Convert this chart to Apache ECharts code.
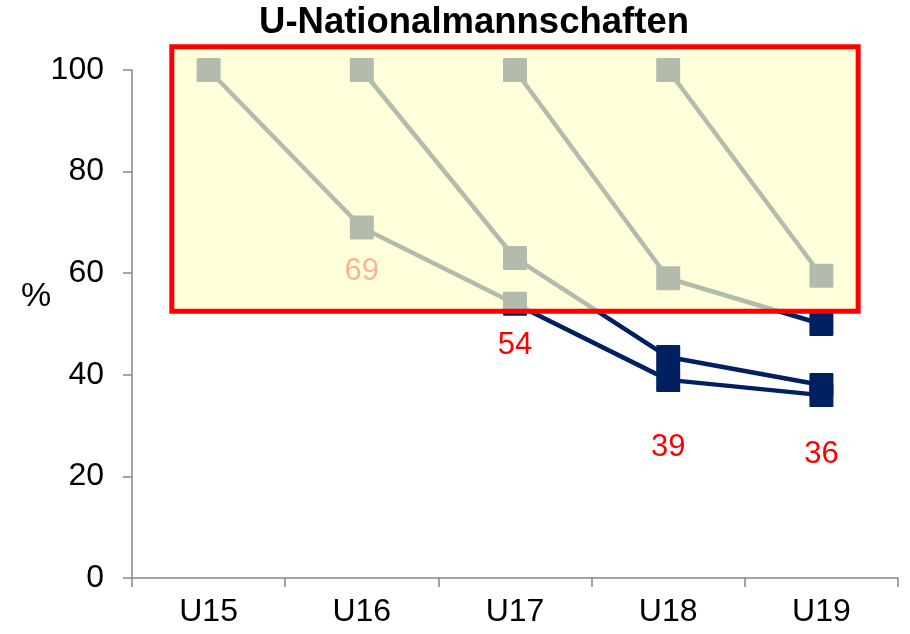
<!DOCTYPE html>
<html>
<head>
<meta charset="utf-8">
<script src="https://cdn.jsdelivr.net/npm/echarts@6/dist/echarts.min.js"></script>
<style>
  html, body { margin: 0; padding: 0; background: #fff; }
  #main { width: 910px; height: 634px; }
</style>
</head>
<body>
<div id="main"></div>
<script>
var categories = ['U15', 'U16', 'U17', 'U18', 'U19'];

// jeweils ein Jahrgang, Start bei 100 %
var fromU15 = [100, 69, 54, 39, 36];
var fromU16 = ['-', 100, 63, 43.5, 38];
var fromU17 = ['-', '-', 100, 59, 50];
var fromU18 = ['-', '-', '-', 100, 59.5];

// Werte, die unter den Punkten stehen (Reihe ab U15)
var labelValues = ['', '69', '54', '39', '36'];
var labelShift = [0, 44, 42, 68, 59];

var yTicks = [0, 20, 40, 60, 80, 100];

// markierter Bereich in Datenkoordinaten (Kategorie-Index, Prozent)
var boxX = [-0.24, 4.24];
var boxY = [52.5, 104.6];

var navy = '#002060';
var font = 'Liberation Sans';
var square = 'path://M1,0 H23 Q24,0 24,1 V23 Q24,24 23,24 H1 Q0,24 0,23 V1 Q0,0 1,0 Z';

var myChart = echarts.init(document.getElementById('main'));

function lineSeries(values, withLabels) {
    return {
        type: 'line',
        data: values.map(function (v, i) {
            var item = { value: v };
            if (withLabels && labelValues[i]) {
                item.label = {
                    show: true,
                    position: 'inside',
                    offset: [0, labelShift[i]],
                    formatter: labelValues[i],
                    color: '#ff0000',
                    fontSize: 31,
                    fontFamily: font
                };
            }
            return item;
        }),
        symbol: square,
        symbolSize: 24,
        showAllSymbol: true,
        connectNulls: false,
        lineStyle: { color: navy, width: 4.5 },
        itemStyle: { color: navy, borderWidth: 0 },
        label: { show: false },
        emphasis: { disabled: true },
        animation: false
    };
}

option = {
    backgroundColor: '#ffffff',
    animation: false,
    title: [{
        text: 'U-Nationalmannschaften',
        left: 474,
        top: 4,
        padding: 0,
        textAlign: 'center',
        textStyle: {
            fontFamily: font,
            fontWeight: 'bold',
            fontSize: 36.5,
            color: '#000'
        }
    }, {
        text: '%',
        left: 36,
        top: 280,
        padding: 0,
        textAlign: 'center',
        textStyle: {
            fontFamily: font,
            fontWeight: 'normal',
            fontSize: 34,
            color: '#000'
        }
    }],
    grid: {
        left: 132,
        right: 12,
        top: 70,
        bottom: 56,
        outerBoundsMode: 'none'
    },
    xAxis: {
        type: 'category',
        data: categories,
        boundaryGap: true,
        axisLine: { lineStyle: { color: '#868686', width: 1.5 } },
        axisTick: { show: true, length: 9, alignWithLabel: false, lineStyle: { color: '#868686', width: 1.5 } },
        axisLabel: {
            margin: 18,
            fontSize: 32,
            fontFamily: font,
            color: '#000'
        },
        splitLine: { show: false }
    },
    yAxis: {
        type: 'value',
        min: yTicks[0],
        max: yTicks[yTicks.length - 1],
        interval: yTicks[1] - yTicks[0],
        axisLine: { show: true, lineStyle: { color: '#868686', width: 1.5 } },
        axisTick: { show: true, length: 9, lineStyle: { color: '#868686', width: 1.5 } },
        axisLabel: {
            margin: 28,
            fontSize: 32,
            fontFamily: font,
            color: '#000'
        },
        splitLine: { show: false }
    },
    series: [
        lineSeries(fromU15, true),
        lineSeries(fromU16, false),
        lineSeries(fromU17, false),
        lineSeries(fromU18, false)
    ]
};

myChart.setOption(option);

// gelb hinterlegter Rahmen über den Linien
var p0 = myChart.convertToPixel({ gridIndex: 0 }, [0, boxY[1]]);
var p4 = myChart.convertToPixel({ gridIndex: 0 }, [4, boxY[0]]);
var step = (p4[0] - p0[0]) / 4;
var x1 = p0[0] + boxX[0] * step;
var x2 = p4[0] + (boxX[1] - 4) * step;

myChart.setOption({
    graphic: [{
        type: 'rect',
        z: 100,
        silent: true,
        shape: { x: x1, y: p0[1], width: x2 - x1, height: p4[1] - p0[1] },
        style: {
            fill: 'rgba(255,255,205,0.7)',
            stroke: '#ff0000',
            lineWidth: 5
        }
    }]
});
</script>
</body>
</html>
